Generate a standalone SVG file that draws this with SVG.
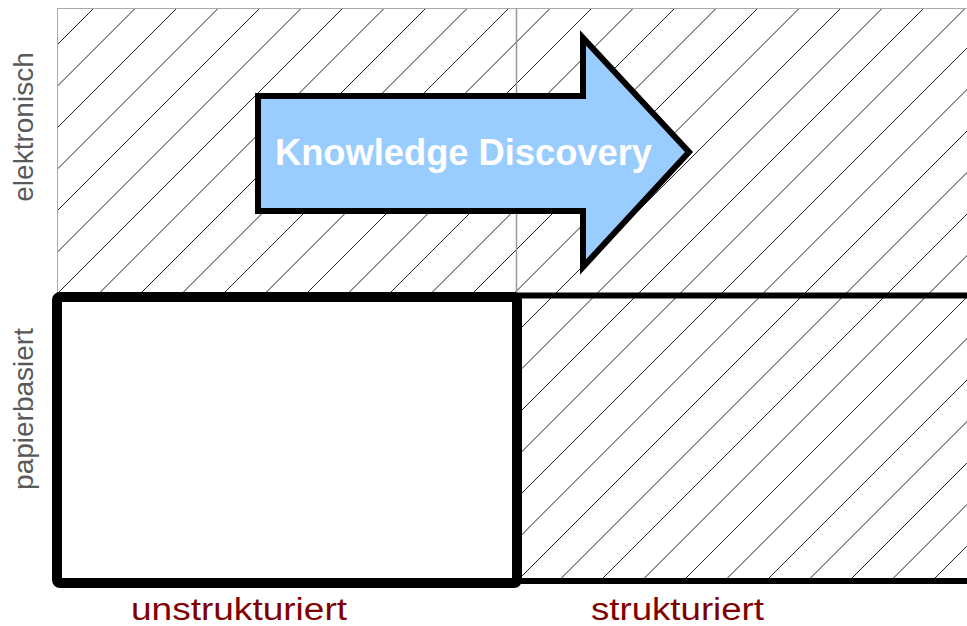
<svg xmlns="http://www.w3.org/2000/svg" width="967" height="626" viewBox="0 0 967 626">
<style>
.hatch{fill:none;stroke:#222;stroke-width:1}
.axis{font-family:"Liberation Sans",Arial,sans-serif;font-size:28px;fill:#595959}
.cat{font-family:"Liberation Sans",Arial,sans-serif;font-size:31px;fill:#800000}
.kd{font-family:"Liberation Sans",Arial,sans-serif;font-size:36px;font-weight:bold;fill:#ffffff}
</style>
<defs>
<clipPath id="hclip">
<rect x="57" y="8" width="920" height="288"/>
<rect x="517" y="296" width="460" height="285"/>
</clipPath>
</defs>
<rect width="967" height="626" fill="#ffffff"/>
<g id="hatching" clip-path="url(#hclip)">
<path class="hatch" d="M102 0l-626 626M143.5 0l-626 626M185 0l-626 626M226.5 0l-626 626M268 0l-626 626M309.5 0l-626 626M351 0l-626 626M392.5 0l-626 626M434 0l-626 626M475.5 0l-626 626M517 0l-626 626M558.5 0l-626 626M600 0l-626 626M641.5 0l-626 626M683 0l-626 626M724.5 0l-626 626M766 0l-626 626M807.5 0l-626 626M849 0l-626 626M890.5 0l-626 626M932 0l-626 626M973.5 0l-626 626M1015 0l-626 626M1056.5 0l-626 626M1098 0l-626 626M1139.5 0l-626 626M1181 0l-626 626M1222.5 0l-626 626M1264 0l-626 626M1305.5 0l-626 626M1347 0l-626 626M1388.5 0l-626 626M1430 0l-626 626M1471.5 0l-626 626M1513 0l-626 626M1554.5 0l-626 626M1596 0l-626 626"/>
</g>
<g id="quadrant-electronic">
<rect x="57.5" y="8.5" width="920" height="288" fill="none" stroke="#aaaaaa" stroke-width="1"/>
<line x1="516.5" y1="8" x2="516.5" y2="296" stroke="#999999" stroke-width="1.5"/>
</g>
<g id="quadrant-paper-structured">
<line x1="517" y1="295.5" x2="967" y2="295.5" stroke="#000" stroke-width="6"/>
<line x1="517" y1="581" x2="967" y2="581" stroke="#000" stroke-width="6"/>
</g>
<g id="quadrant-paper-unstructured">
<rect x="57" y="297" width="460" height="286" fill="#ffffff" stroke="#000" stroke-width="10" rx="3"/>
</g>
<g id="arrow-knowledge-discovery">
<polygon points="258,96 583,96 583,38 689,152 583,267 583,211 258,211" fill="#99ccff" stroke="#000" stroke-width="6" stroke-linejoin="miter"/>
<text x="463.5" y="165" text-anchor="middle" class="kd" textLength="377" lengthAdjust="spacingAndGlyphs">Knowledge Discovery</text>
</g>
<g id="labels">
<text class="axis" transform="translate(33,127) rotate(-90)" text-anchor="middle">elektronisch</text>
<text class="axis" transform="translate(33,409) rotate(-90)" text-anchor="middle">papierbasiert</text>
<text class="cat" x="131" y="620" textLength="216" lengthAdjust="spacingAndGlyphs">unstrukturiert</text>
<text class="cat" x="591" y="620" textLength="173" lengthAdjust="spacingAndGlyphs">strukturiert</text>
</g>
<g id="connectors"></g>
</svg>
